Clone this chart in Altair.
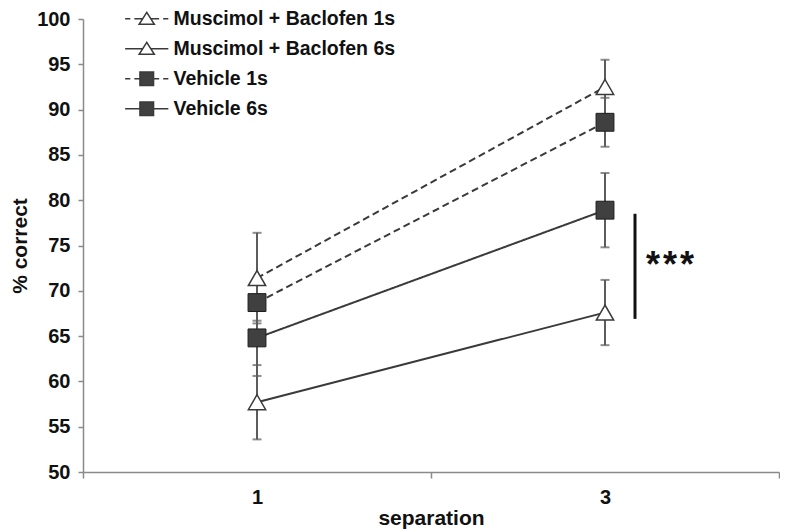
import altair as alt
import pandas as pd

# ---- data ----
separation = ["1", "3"]
series_names = ["Muscimol + Baclofen 1s", "Muscimol + Baclofen 6s", "Vehicle 1s", "Vehicle 6s"]
series_drug = ["M+B", "M+B", "Vehicle", "Vehicle"]
series_delay = ["1s", "6s", "1s", "6s"]

mb_1s = [71.4, 92.5]
mb_1s_sem = [5.0, 3.0]
mb_6s = [57.7, 67.6]
mb_6s_sem = [4.1, 3.6]
veh_1s = [68.7, 88.6]
veh_1s_sem = [2.0, 2.7]
veh_6s = [64.8, 78.9]
veh_6s_sem = [4.2, 4.1]

sig_at = ["3"]
sig_top = [78.5]
sig_bottom = [66.9]
sig_label = ["*\u200a*\u200a*"]

y_ticks = [50, 55, 60, 65, 70, 75, 80, 85, 90, 95, 100]

means = [mb_1s, mb_6s, veh_1s, veh_6s]
sems = [mb_1s_sem, mb_6s_sem, veh_1s_sem, veh_6s_sem]

rows = []
for name, drug, delay, m, s in zip(series_names, series_drug, series_delay, means, sems):
    for sep, mv, sv in zip(separation, m, s):
        rows.append({"series": name, "drug": drug, "delay": delay, "separation": sep,
                     "mean": mv, "lo": mv - sv, "hi": mv + sv})
df = pd.DataFrame(rows)

sig_df = pd.DataFrame({"separation": sig_at, "top": sig_top, "bottom": sig_bottom,
                       "mid": [(a + b) / 2 for a, b in zip(sig_top, sig_bottom)],
                       "label": sig_label})

FONT = "Liberation Sans"
LINE = "#3a3a3a"
ERR = "#5c5c5c"
AXIS = "#8a8a8a"

x_enc = alt.X("separation:N",
              scale=alt.Scale(type="band", domain=separation, paddingInner=0, paddingOuter=0),
              axis=alt.Axis(title="separation", tickBand="extent", labelAngle=0,
                            tickSize=6, labelPadding=9, titlePadding=0,
                            titleFontSize=21))
y_scale = alt.Scale(domain=[50, 100], nice=False, zero=False)
y_enc = alt.Y("mean:Q", scale=y_scale,
              axis=alt.Axis(title="% correct", values=y_ticks, tickSize=5,
                            labelPadding=8, titlePadding=6, titleFontSize=21))

base = alt.Chart(df)

err_rule = base.mark_rule(color=ERR, strokeWidth=2).encode(
    x=x_enc, y=alt.Y("lo:Q", scale=y_scale), y2="hi:Q")
err_lo = base.mark_tick(color=ERR, thickness=2, size=9).encode(
    x=x_enc, y=alt.Y("lo:Q", scale=y_scale))
err_hi = base.mark_tick(color=ERR, thickness=2, size=9).encode(
    x=x_enc, y=alt.Y("hi:Q", scale=y_scale))

lines = base.mark_line(color=LINE, strokeWidth=2).encode(
    x=x_enc, y=y_enc, detail="series:N",
    strokeDash=alt.StrokeDash("delay:N",
                              scale=alt.Scale(domain=["1s", "6s"], range=[[7, 4], [1, 0]]),
                              legend=None))

tri = base.transform_filter(alt.datum.drug == "M+B").mark_point(
    shape="triangle-up", size=300, filled=True, fill="white", stroke=LINE,
    strokeWidth=1.5, opacity=1).encode(x=x_enc, y=y_enc)
sq = base.transform_filter(alt.datum.drug == "Vehicle").mark_point(
    shape="square", size=320, filled=True, fill="#404040", stroke="#1e1e1e",
    strokeWidth=1, opacity=1).encode(x=x_enc, y=y_enc)

# legend symbols: line segments with the marker in the middle (custom SVG paths)
tri_shape = "M0,-0.8L0.95,0.7L-0.95,0.7Z"
sq_shape = "M-0.85,-0.85H0.85V0.85H-0.85Z"
dash_l_tri = "M-2.7,0H-2.05M-1.55,0H-0.5M0.5,0H1.55M2.05,0H2.7"
solid_l_tri = "M-2.7,0H-0.5M0.5,0H2.7"
dash_l_sq = "M-2.7,0H-2.05M-1.55,0H-0.85M0.85,0H1.55M2.05,0H2.7"
solid_l_sq = "M-2.7,0H-0.85M0.85,0H2.7"
legend_paths = [dash_l_tri + tri_shape, solid_l_tri + tri_shape,
                dash_l_sq + sq_shape, solid_l_sq + sq_shape]
legend_fills = ["white", "white", "#404040", "#404040"]
legend_strokes = [LINE, LINE, LINE, LINE]

leg = alt.Legend(title=None, orient="none", legendX=54, legendY=-10, padding=0,
                 labelFont=FONT, labelFontSize=19.5, labelFontWeight="bold",
                 labelColor="#111", labelOffset=17, rowPadding=9, labelLimit=400,
                 symbolSize=256, symbolStrokeWidth=1.5, symbolOpacity=1)

legend_layer = base.transform_filter("false").mark_point(
    filled=False, strokeWidth=1.5, opacity=1).encode(
    x=x_enc, y=y_enc,
    shape=alt.Shape("series:N", scale=alt.Scale(domain=series_names, range=legend_paths), legend=leg),
    fill=alt.Fill("series:N", scale=alt.Scale(domain=series_names, range=legend_fills), legend=leg),
    stroke=alt.Stroke("series:N", scale=alt.Scale(domain=series_names, range=legend_strokes), legend=leg))

sig_rule = alt.Chart(sig_df).mark_rule(color="#111", strokeWidth=3, xOffset=30).encode(
    x=x_enc, y=alt.Y("top:Q", scale=y_scale), y2="bottom:Q")
sig_text = alt.Chart(sig_df).mark_text(align="left", baseline="middle", xOffset=41,
                                       font=FONT, fontSize=36, fontWeight="bold",
                                       color="#111").encode(
    x=x_enc, y=alt.Y("mid:Q", scale=y_scale), text="label:N")

chart = alt.layer(err_rule, err_lo, err_hi, lines, tri, sq, legend_layer, sig_rule, sig_text).properties(
    width=696, height=453, background="white",
    autosize=alt.AutoSizeParams(type="none"),
    padding={"left": 75, "top": 11, "right": 1, "bottom": 58}
).configure_view(strokeWidth=0).configure_axis(
    grid=False, domainColor=AXIS, domainWidth=1.5, tickColor=AXIS, tickWidth=1.5,
    labelFont=FONT, labelFontSize=20, labelFontWeight="bold", labelColor="#111",
    titleFont=FONT, titleFontWeight="bold", titleColor="#111"
)

chart.save("out.html", embed_options={"renderer": "svg", "actions": False})
